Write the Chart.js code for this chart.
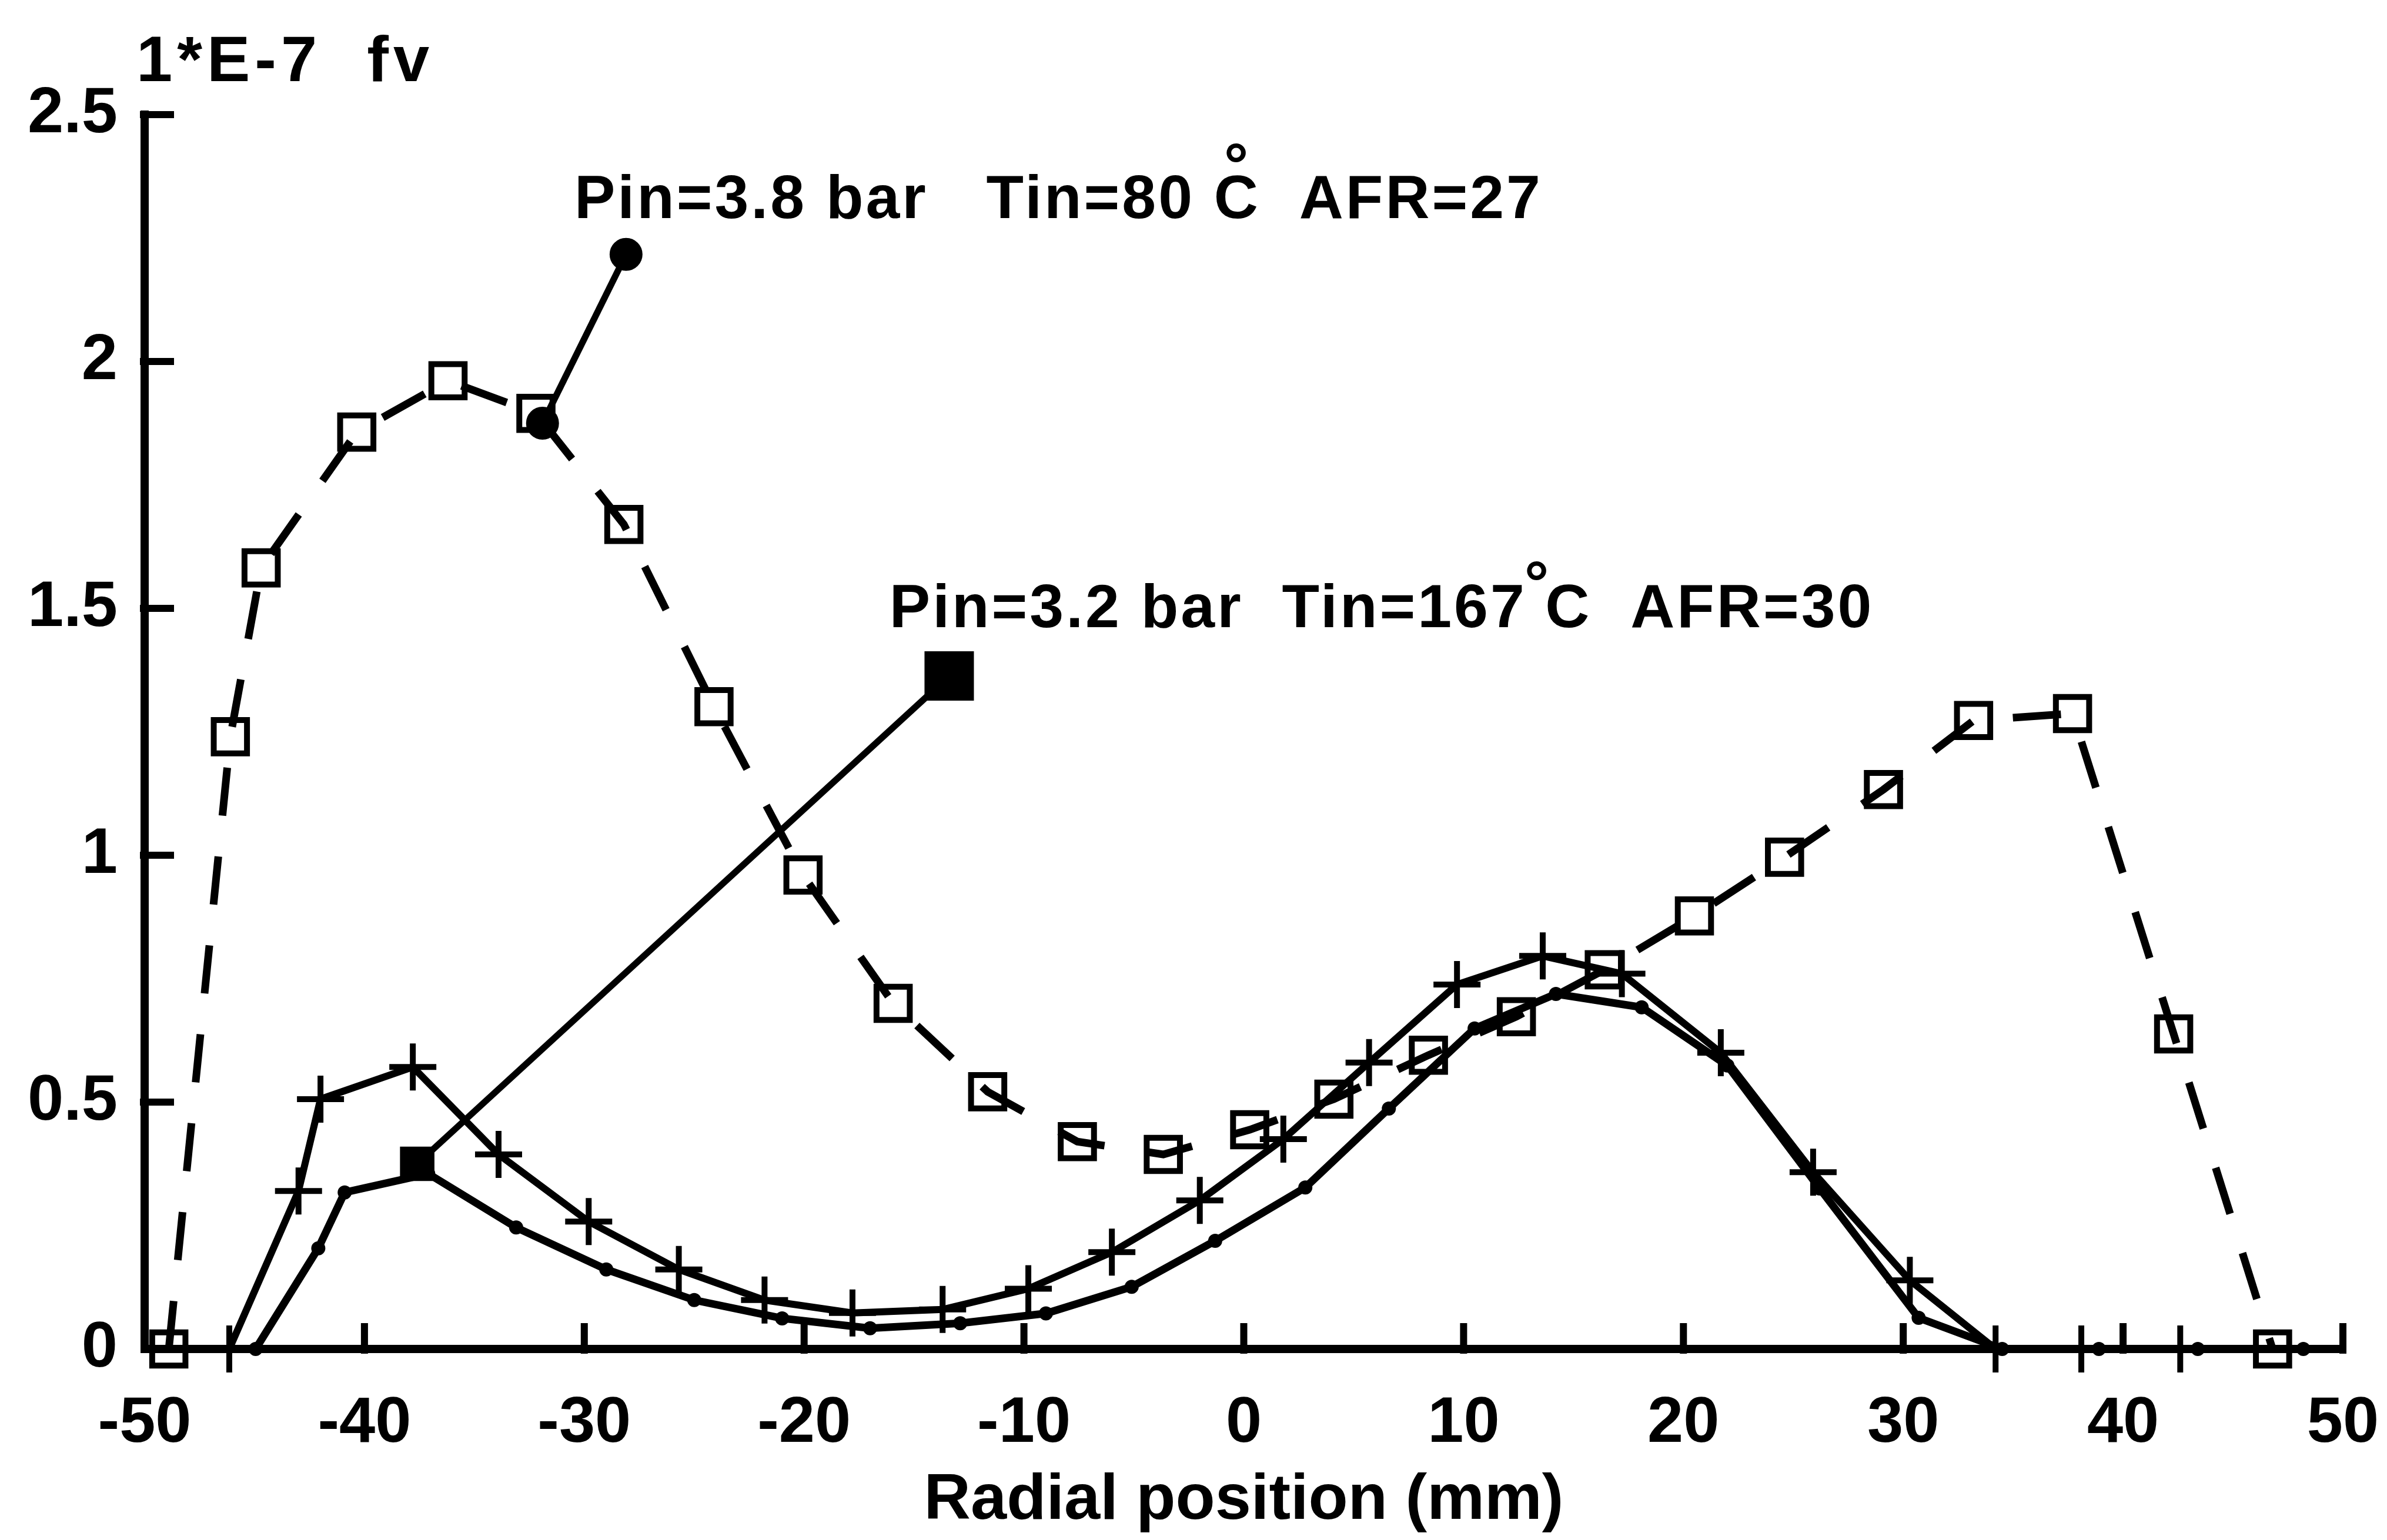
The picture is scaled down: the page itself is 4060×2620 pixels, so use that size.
<!DOCTYPE html>
<html>
<head>
<meta charset="utf-8">
<title>Radial soot volume fraction profiles</title>
<script src="https://cdn.jsdelivr.net/npm/chart.js@4/dist/chart.umd.min.js"></script>
<style>
  html, body { margin: 0; padding: 0; background: #ffffff; }
  canvas { display: block; }
</style>
</head>
<body>
<canvas id="fvChart" width="4060" height="2620"></canvas>
<script>
// Axis ticks
const xTicks = [-50, -40, -30, -20, -10, 0, 10, 20, 30, 40, 50];
const yTicks = [0, 0.5, 1, 1.5, 2, 2.5];
const yTickLabels = ['0', '0.5', '1', '1.5', '2', '2.5'];

// Pin = 3.8 bar, Tin = 80 °C, AFR = 27  (dashed line, open squares)
const highPosX = [-48.9, -46.1, -44.7, -40.35, -36.2, -32.2, -28.2, -24.1, -20.05, -15.95,
                  -11.65, -7.57, -3.66, 0.27, 4.1, 8.4, 12.4, 16.4, 20.5, 24.6,
                  29.1, 33.2, 37.7, 42.3, 46.8];
const highFv   = [0, 1.24, 1.582, 1.857, 1.961, 1.895, 1.670, 1.301, 0.960, 0.700,
                  0.521, 0.420, 0.394, 0.444, 0.506, 0.595, 0.673, 0.768, 0.877, 0.996,
                  1.133, 1.273, 1.287, 0.638, 0];

// Pin = 3.2 bar, Tin = 167 °C, AFR = 30  (solid line, small dots)
const warmPosX = [-44.95, -42.1, -40.9, -37.1, -33.1, -29.0, -25.0, -21.0, -17.0, -12.9,
                  -9.0, -5.1, -1.3, 2.8, 6.6, 10.5, 14.2, 18.1, 22.0, 26.2,
                  30.7, 34.5, 38.9, 43.4, 48.2];
const warmFv   = [0, 0.204, 0.317, 0.355, 0.246, 0.161, 0.099, 0.062, 0.042, 0.052,
                  0.072, 0.126, 0.219, 0.327, 0.487, 0.649, 0.719, 0.692, 0.574, 0.325,
                  0.063, 0, 0, 0, 0];

// Third profile  (solid line, crosses)
const crossPosX = [-46.15, -43.0, -42.0, -37.8, -33.9, -29.8, -25.7, -21.8, -17.8, -13.7,
                   -9.8, -6.0, -2.0, 1.8, 5.7, 9.7, 13.6, 17.2, 21.7, 25.9,
                   30.3, 34.2, 38.1, 42.6];
const crossFv   = [0, 0.32, 0.506, 0.571, 0.394, 0.258, 0.161, 0.099, 0.073, 0.080,
                   0.122, 0.196, 0.301, 0.425, 0.580, 0.738, 0.796, 0.760, 0.600, 0.358,
                   0.139, 0, 0, 0];

// Callout leader lines tying each caption to its curve
const leaderHighX = [-31.9, -28.1];
const leaderHighY = [1.875, 2.217];
const leaderWarmX = [-37.6, -13.4];
const leaderWarmY = [0.375, 1.363];

// Texts
const yUnitText = '1*E-7  fv';
const xTitleText = 'Radial position (mm)';
const highCaption = { before: 'Pin=3.8 bar   Tin=80 ', unit: 'C', after: '  AFR=27' };
const warmCaption = { before: 'Pin=3.2 bar  Tin=167', deg: '°', after: 'C  AFR=30' };

// Caption anchors (data coordinates: left edge, text baseline)
const highCaptionAt = { x: -30.45, y: 2.29 };
const warmCaptionAt = { x: -16.12, y: 1.462 };

const FONT = '"Liberation Sans", Arial, Helvetica, sans-serif';
const toPoints = (xs, ys) => xs.map((x, i) => ({ x, y: ys[i] }));

// Tick marks pointing into the plot, plus the free-standing texts
const frameDecor = {
  id: 'frameDecor',
  beforeDatasetsDraw(chart) {
    const { ctx, chartArea: a, scales: { x, y } } = chart;
    ctx.save();
    ctx.strokeStyle = '#000';
    ctx.lineWidth = 12;
    ctx.lineCap = 'butt';
    ctx.beginPath();
    xTicks.forEach(v => {
      if (v === xTicks[0]) return;
      const px = x.getPixelForValue(v);
      ctx.moveTo(px, a.bottom + 8);
      ctx.lineTo(px, a.bottom - 44);
    });
    yTicks.forEach(v => {
      if (v === yTicks[0]) return;
      const py = y.getPixelForValue(v);
      ctx.moveTo(a.left - 8, py);
      ctx.lineTo(a.left + 50, py);
    });
    ctx.stroke();
    ctx.restore();
  },
  afterDraw(chart) {
    const { ctx, chartArea: a, scales: { x, y } } = chart;
    ctx.save();
    ctx.fillStyle = '#000';
    ctx.textBaseline = 'alphabetic';
    ctx.textAlign = 'left';

    // unit label above the value axis
    ctx.font = 'bold 110px ' + FONT;
    ctx.letterSpacing = '8px';
    ctx.fillText(yUnitText, a.left - 14, a.top - 57);

    ctx.font = 'bold 104px ' + FONT;
    ctx.letterSpacing = '4px';

    // caption for the 3.8 bar case: degree ring set above the C
    let cx = x.getPixelForValue(highCaptionAt.x);
    let cy = y.getPixelForValue(highCaptionAt.y);
    ctx.fillText(highCaption.before, cx, cy);
    cx += ctx.measureText(highCaption.before).width;
    const cW = ctx.measureText(highCaption.unit).width;
    ctx.fillText(highCaption.unit, cx, cy);
    ctx.textAlign = 'center';
    ctx.letterSpacing = '0px';
    ctx.fillText('°', cx + cW / 2 - 2, cy - 55);
    ctx.textAlign = 'left';
    ctx.letterSpacing = '4px';
    ctx.fillText(highCaption.after, cx + cW, cy);

    // caption for the 3.2 bar case: raised degree ring before the C
    cx = x.getPixelForValue(warmCaptionAt.x);
    cy = y.getPixelForValue(warmCaptionAt.y);
    ctx.fillText(warmCaption.before, cx, cy);
    cx += ctx.measureText(warmCaption.before).width;
    ctx.letterSpacing = '0px';
    ctx.fillText(warmCaption.deg, cx - 4, cy - 40);
    cx += ctx.measureText(warmCaption.deg).width - 10;
    ctx.letterSpacing = '4px';
    ctx.fillText(warmCaption.after, cx, cy);

    ctx.restore();
  }
};

const lineBase = {
  showLine: true,
  tension: 0,
  clip: false,
  borderColor: '#000',
  pointBorderColor: '#000',
  pointHoverRadius: 0
};

new Chart(document.getElementById('fvChart'), {
  type: 'scatter',
  data: {
    datasets: [
      {
        ...lineBase,
        label: 'Pin=3.8 bar Tin=80°C AFR=27',
        data: toPoints(highPosX, highFv),
        borderWidth: 13,
        borderDash: [82, 70],
        pointStyle: 'rect',
        pointRadius: 40,
        pointBorderWidth: 10,
        pointBackgroundColor: 'rgba(255,255,255,0)'
      },
      {
        ...lineBase,
        label: 'Pin=3.2 bar Tin=167°C AFR=30',
        data: toPoints(warmPosX, warmFv),
        borderWidth: 13,
        pointStyle: 'circle',
        pointRadius: 11,
        pointBorderWidth: 2,
        pointBackgroundColor: '#000'
      },
      {
        ...lineBase,
        label: 'crosses',
        data: toPoints(crossPosX, crossFv),
        borderWidth: 12,
        pointStyle: 'cross',
        pointRadius: 40,
        pointBorderWidth: 10,
        pointBackgroundColor: '#000'
      },
      {
        ...lineBase,
        label: 'leader 3.8 bar',
        data: toPoints(leaderHighX, leaderHighY),
        borderWidth: 11,
        pointStyle: 'circle',
        pointRadius: 27,
        pointBorderWidth: 2,
        pointBackgroundColor: '#000'
      },
      {
        ...lineBase,
        label: 'leader 3.2 bar',
        data: toPoints(leaderWarmX, leaderWarmY),
        borderWidth: 11,
        pointStyle: 'rect',
        pointRadius: [40, 58],
        pointBorderWidth: 2,
        pointBackgroundColor: '#000'
      }
    ]
  },
  options: {
    responsive: false,
    animation: false,
    devicePixelRatio: 1,
    layout: { padding: { top: 195, right: 75, left: 0, bottom: 0 } },
    plugins: {
      legend: { display: false },
      tooltip: { enabled: false },
      title: { display: false }
    },
    scales: {
      x: {
        type: 'linear',
        min: -50,
        max: 50,
        afterBuildTicks: s => { s.ticks = xTicks.map(v => ({ value: v })); },
        afterFit: s => { s.height = 325; s.paddingLeft = 0; s.paddingRight = 0; },
        grid: { display: false, drawTicks: false },
        border: { display: true, width: 14, color: '#000' },
        ticks: {
          color: '#000',
          padding: 62,
          maxRotation: 0,
          autoSkip: false,
          font: { family: FONT, size: 110, weight: 'bold' },
          callback: v => String(v)
        },
        title: {
          display: true,
          text: xTitleText,
          color: '#000',
          padding: { top: 0, bottom: 0 },
          font: { family: FONT, size: 110, weight: 'bold' }
        }
      },
      y: {
        type: 'linear',
        min: 0,
        max: 2.5,
        afterBuildTicks: s => { s.ticks = yTicks.map(v => ({ value: v })); },
        afterFit: s => { s.width = 246; },
        grid: { display: false, drawTicks: false },
        border: { display: true, width: 14, color: '#000' },
        ticks: {
          color: '#000',
          padding: 46,
          autoSkip: false,
          font: { family: FONT, size: 110, weight: 'bold' },
          callback: v => {
            const i = yTicks.findIndex(t => Math.abs(t - v) < 1e-9);
            return i >= 0 ? yTickLabels[i] : '';
          }
        }
      }
    }
  },
  plugins: [frameDecor]
});
</script>
</body>
</html>
